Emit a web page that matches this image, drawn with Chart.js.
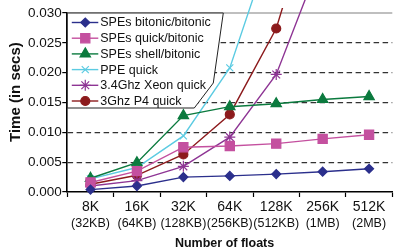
<!DOCTYPE html>
<html><head><meta charset="utf-8">
<script src="https://cdn.jsdelivr.net/npm/chart.js@4/dist/chart.umd.min.js"></script>
<style>
html,body{margin:0;padding:0;overflow:hidden;background:#fff;width:394px;height:249px}
#wrap{width:400px;height:256px}
</style></head>
<body><div id="wrap"><canvas id="c" width="400" height="256"></canvas></div>
<script>
const categories = ['8K','16K','32K','64K','128K','256K','512K'];
const sizeLabels = ['(32KB)','(64KB)','(128KB)','(256KB)','(512KB)','(1MB)','(2MB)'];
const yTickValues = [0, 0.005, 0.010, 0.015, 0.020, 0.025, 0.030];
const seriesNames = ['SPEs bitonic/bitonic','SPEs quick/bitonic','SPEs shell/bitonic','PPE quick','3.4Ghz Xeon quick','3Ghz P4 quick'];
const spesBitonic = [0.0004, 0.0010, 0.0025, 0.0027, 0.0030, 0.0034, 0.0039];
const spesQuick   = [0.0016, 0.0035, 0.0075, 0.0077, 0.0081, 0.0089, 0.0096];
const spesShell   = [0.0023, 0.0049, 0.0128, 0.0143, 0.0148, 0.0155, 0.0160];
const ppeQuick    = [0.0022, 0.0041, 0.0094, 0.0208, 0.0440, null, null];
const xeonQuick   = [0.0010, 0.0019, 0.0043, 0.0092, 0.0197, 0.0398, null];
const p4Quick     = [0.0013, 0.0028, 0.0063, 0.0130, 0.0274, 0.0530, null];

const FONT = "'Liberation Sans', Arial, Helvetica, sans-serif";
const styles = [
  {color:'#2b2f8c', pointStyle:'rectRot',  radius:4.5},
  {color:'#c4509f', pointStyle:'rect',     radius:6.5},
  {color:'#0b7a3e', pointStyle:'triangle', radius:6},
  {color:'#5ccbe2', pointStyle:'crossRot', radius:5},
  {color:'#8e3594', pointStyle:'star',     radius:5.5},
  {color:'#8c1a1c', pointStyle:'circle',   radius:4.5}
];
const values = [spesBitonic, spesQuick, spesShell, ppeQuick, xeonQuick, p4Quick];
const clips = [3,3,3,13,13,5];

const datasets = values.map((v,i)=>({
  label: seriesNames[i],
  data: v,
  xAxisID: 'x',
  borderColor: styles[i].color,
  backgroundColor: styles[i].color,
  pointBackgroundColor: styles[i].color,
  pointBorderColor: styles[i].color,
  pointStyle: styles[i].pointStyle,
  pointRadius: styles[i].radius,
  pointBorderWidth: 1.2,
  borderWidth: 1.4,
  tension: 0,
  spanGaps: false,
  clip: {left: 3, top: clips[i], right: 3, bottom: 3}
}));

const framePlugin = {
  id: 'frame',
  beforeDatasetsDraw(chart) {
    const {ctx, chartArea:a} = chart;
    ctx.save();
    ctx.strokeStyle = '#808080';
    ctx.lineWidth = 1.2;
    ctx.beginPath();
    ctx.moveTo(a.left, a.top);
    ctx.lineTo(a.right, a.top);
    ctx.stroke();
    ctx.restore();
  }
};

const legendPlugin = {
  id: 'insetLegend',
  afterDatasetsDraw(chart) {
    const {ctx, chartArea:a} = chart;
    const L = a.left, T = a.top;
    ctx.save();
    ctx.beginPath();
    ctx.moveTo(L, T);
    ctx.lineTo(L + 156, T);
    ctx.lineTo(L + 146, T + 70);
    ctx.lineTo(L + 127, T + 95);
    ctx.lineTo(L, T + 95);
    ctx.closePath();
    ctx.fillStyle = '#fff';
    ctx.fill();
    ctx.strokeStyle = '#222';
    ctx.lineWidth = 1;
    ctx.stroke();
    ctx.font = "12.5px " + FONT;
    ctx.textBaseline = 'middle';
    ctx.textAlign = 'left';
    chart.data.datasets.forEach((ds, i) => {
      const y = T + 9.5 + i * 15.7;
      ctx.strokeStyle = ds.borderColor;
      ctx.fillStyle = ds.borderColor;
      ctx.lineWidth = 1.4;
      ctx.beginPath();
      ctx.moveTo(L + 4.5, y);
      ctx.lineTo(L + 31, y);
      ctx.stroke();
      ctx.lineWidth = 1.2;
      if (Chart.helpers && Chart.helpers.drawPoint) {
        Chart.helpers.drawPoint(ctx, {pointStyle: ds.pointStyle, radius: ds.pointRadius, rotation: 0, borderWidth: 1.2}, L + 18, y);
      }
      ctx.fillStyle = '#111';
      ctx.fillText(ds.label, L + 33, y + 0.5);
    });
    ctx.restore();
  }
};

new Chart(document.getElementById('c'), {
  type: 'line',
  data: { labels: categories, datasets },
  plugins: [framePlugin, legendPlugin],
  options: {
    responsive: false,
    devicePixelRatio: 1,
    animation: false,
    layout: { padding: { top: 13, right: 3.5, bottom: 4.5, left: 0 } },
    plugins: { legend: { display: false }, tooltip: { enabled: false } },
    scales: {
      x: {
        type: 'category',
        position: 'bottom',
        weight: 0,
        offset: true,
        grid: { display: true, drawOnChartArea: false, drawTicks: true, tickLength: 5, offset: true, tickColor: '#000', tickWidth: 1.2 },
        border: { display: true, color: '#000', width: 1.6 },
        ticks: { color: '#111', padding: 3, maxRotation: 0, autoSkip: false, font: { family: FONT, size: 14, lineHeight: 1.0 } }
      },
      x2: {
        type: 'category',
        position: 'bottom',
        weight: 1,
        labels: sizeLabels,
        offset: true,
        grid: { display: false, drawTicks: false },
        border: { display: false },
        ticks: { color: '#111', padding: 0, maxRotation: 0, autoSkip: false, font: { family: FONT, size: 12.5, lineHeight: 1.0 } },
        title: { display: true, text: 'Number of floats   ', color: '#111', padding: { top: 7, bottom: 0 }, font: { family: FONT, size: 12.5, weight: 'bold', lineHeight: 1.2 } }
      },
      y: {
        type: 'linear',
        min: 0,
        max: 0.03,
        afterBuildTicks(scale) { scale.ticks = yTickValues.map(v => ({ value: v })); },
        grid: {
          display: true,
          drawOnChartArea: true,
          drawTicks: true,
          tickLength: 5,
          tickColor: '#000',
          tickWidth: 1.2,
          lineWidth: 1.2,
          color: (c) => (c.tick && c.tick.value > 0.0001 && c.tick.value < 0.0299) ? '#333' : 'rgba(0,0,0,0)'
        },
        border: { display: true, color: '#000', width: 1.6, dash: [5.5, 3.5] },
        ticks: { color: '#111', padding: 0.5, font: { family: FONT, size: 13.5 }, callback: (v) => Number(v).toFixed(3) },
        title: { display: true, text: '     Time (in secs)', color: '#111', padding: { top: 6.5, bottom: 3 }, font: { family: FONT, size: 15, weight: 'bold', lineHeight: 1.2 } }
      }
    }
  }
});
</script>
</body></html>
